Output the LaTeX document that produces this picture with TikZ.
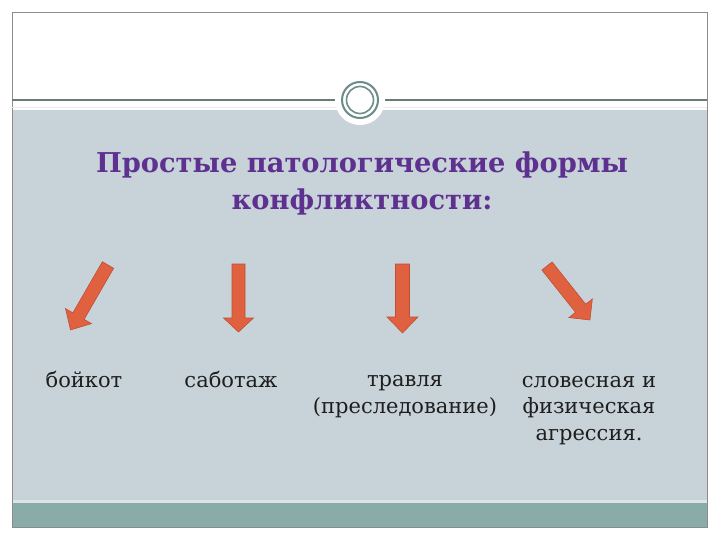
\documentclass[tikz,border=0pt]{standalone}
\usepackage{fontspec}
\setmainfont{DejaVu Serif}
\begin{document}
\begin{tikzpicture}[x=1pt,y=-1pt,
  arrowshape/.style={fill=arrfill,draw=arredge,line width=0.6pt,line join=miter},
  bodytext/.style={text=txtcol,align=center,font=\fontsize{21}{26.5}\selectfont,inner sep=0pt},
  titletext/.style={text=ttlcol,align=center,font=\fontsize{27.3}{37}\selectfont\bfseries,inner sep=0pt}]
\definecolor{bgblue}{HTML}{C8D3D9}
\definecolor{tealbar}{HTML}{8AACA8}
\definecolor{gapcol}{HTML}{DCE4E6}
\definecolor{ttlcol}{HTML}{5E3190}
\definecolor{txtcol}{HTML}{1E1E1E}
\definecolor{arrfill}{HTML}{E0613F}
\definecolor{arredge}{HTML}{C04E35}
\definecolor{framecol}{HTML}{8C8C8C}
\definecolor{linecol}{HTML}{6B7B79}
\definecolor{ringcol}{HTML}{6C8C89}
\useasboundingbox (0,0) rectangle (720,540);
\fill[white] (0,0) rectangle (720,540);
% panels
\fill[bgblue] (12,110) rectangle (707,500);
\fill[gapcol] (12,500) rectangle (707,503);
\fill[tealbar] (12,503) rectangle (707,527);
\draw[framecol,line width=0.8pt] (12,12) rectangle (707,527);
\draw[linecol,line width=1.4pt] (12,100) -- (707,100);
\draw[white!85!gray,line width=0.6pt] (12,107) -- (707,107);
% circle ornament
\fill[white] (360,100) circle (25);
\draw[ringcol,line width=2pt] (360,100) circle (18);
\draw[ringcol,line width=1.6pt] (360,100) circle (13.5);
% title (anchor = baseline of last line)
\node[titletext,anchor=base] (title) at (362,210) {Простые патологические формы\\конфликтности:};
% arrows (drawn pointing down, tail at origin)
\begin{scope}[shift={(108,265)},rotate=-30]
  \filldraw[arrowshape] (-6.5,0) -- (6.5,0) -- (6.5,59) -- (15,59) -- (0,75) -- (-15,59) -- (-6.5,59) -- cycle;
\end{scope}
\begin{scope}[shift={(238.5,264)}]
  \filldraw[arrowshape] (-6.5,0) -- (6.5,0) -- (6.5,54) -- (15,54) -- (0,68) -- (-15,54) -- (-6.5,54) -- cycle;
\end{scope}
\begin{scope}[shift={(402.5,264)}]
  \filldraw[arrowshape] (-7,0) -- (7,0) -- (7,53) -- (15.5,53) -- (0,69) -- (-15.5,53) -- (-7,53) -- cycle;
\end{scope}
\begin{scope}[shift={(547,266)},rotate=38.5]
  \filldraw[arrowshape] (-6.5,0) -- (6.5,0) -- (6.5,54) -- (15,54) -- (0,69) -- (-15,54) -- (-6.5,54) -- cycle;
\end{scope}
% labels (anchor = baseline of last line)
\node[bodytext,anchor=base] (boycott) at (84,387) {бойкот};
\node[bodytext,anchor=base] (sabotage) at (231,387) {саботаж};
\node[bodytext,anchor=base] (mobbing) at (405,413) {травля\\(преследование)};
\node[bodytext,anchor=base] (aggression) at (589,440) {словесная и\\физическая\\агрессия.};
\end{tikzpicture}
\end{document}
